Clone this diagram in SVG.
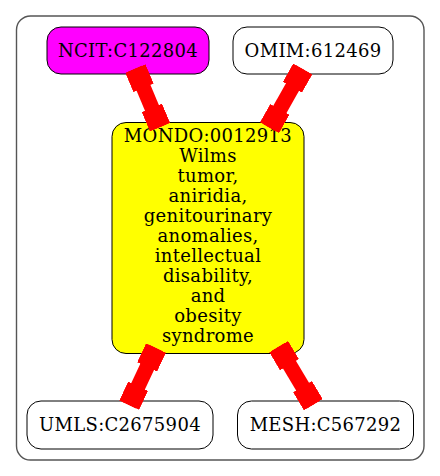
<svg xmlns="http://www.w3.org/2000/svg" width="440" height="476" viewBox="0 0 440 476">
<defs>
<style>
.node rect{stroke:#000;stroke-width:1}
text{font-family:"DejaVu Serif",serif;font-size:18px;letter-spacing:0.3px;fill:#000;text-anchor:middle}
.edge line{stroke:#f00;stroke-width:15}
</style>
<marker id="box" markerUnits="userSpaceOnUse" viewBox="-21 -11 21 22" refX="0" refY="0" markerWidth="21" markerHeight="22" orient="auto-start-reverse">
<rect x="-21" y="-11" width="21" height="22" fill="#f00"/>
</marker>
</defs>
<rect width="440" height="476" fill="#fff"/>
<g id="cluster"><rect x="16.5" y="16" width="407.5" height="444" rx="14" fill="none" stroke="#555" stroke-width="1.4"/></g>
<g id="ncit" class="node"><rect x="47" y="27" width="162" height="47" rx="14" fill="#f0f"/><text x="128" y="56.5">NCIT:C122804</text></g>
<g id="omim" class="node"><rect x="233" y="27" width="160" height="47" rx="14" fill="#fff"/><text x="313" y="56.5">OMIM:612469</text></g>
<g id="mondo" class="node"><rect x="112" y="122.5" width="192" height="231" rx="14" fill="#ff0"/>
<text x="208" y="142.3">MONDO:0012913</text>
<text x="208" y="162.3">Wilms</text>
<text x="208" y="182.3">tumor,</text>
<text x="208" y="202.3">aniridia,</text>
<text x="208" y="222.3">genitourinary</text>
<text x="208" y="242.3">anomalies,</text>
<text x="208" y="262.3">intellectual</text>
<text x="208" y="282.3">disability,</text>
<text x="208" y="302.3">and</text>
<text x="208" y="322.3">obesity</text>
<text x="208" y="342.3">syndrome</text>
</g>
<g id="umls" class="node"><rect x="27" y="401" width="186" height="48" rx="14" fill="#fff"/><text x="120" y="430.7">UMLS:C2675904</text></g>
<g id="mesh" class="node"><rect x="237.5" y="401" width="176" height="48" rx="14" fill="#fff"/><text x="325.5" y="430.7">MESH:C567292</text></g>
<g id="edges" class="edge">
<line x1="135.4" y1="68.5" x2="160" y2="127.2" marker-start="url(#box)" marker-end="url(#box)"/>
<line x1="302.7" y1="69" x2="269.5" y2="127.7" marker-start="url(#box)" marker-end="url(#box)"/>
<line x1="156" y1="348" x2="129.2" y2="405.2" marker-start="url(#box)" marker-end="url(#box)"/>
<line x1="278.7" y1="346.7" x2="313.3" y2="404.7" marker-start="url(#box)" marker-end="url(#box)"/>
</g>
</svg>
